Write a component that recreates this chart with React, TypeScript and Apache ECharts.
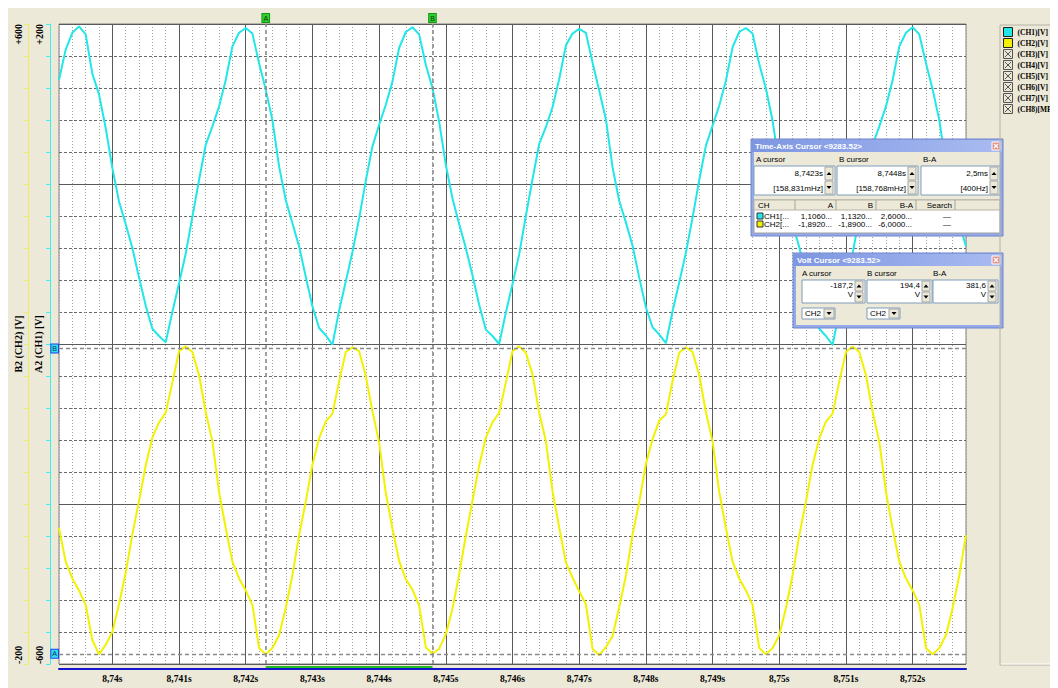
import React, { useEffect, useRef } from "react";
import * as echarts from "echarts";

// first sample time in 0.1 ms units (8,7392 s), samples every 0.1 ms
const SAMPLE_START_TENTH_MS = 87392;

const CH1_V = [
  130, 168, 189, 197, 187, 138, 112, 70, 20, -22, -50, -80, -117, -152, -181, -190,
  -198, -160, -124, -87, -41, 5, 49, 72, 97, 130, 172, 189, 195, 188, 151, 118, 80, 22, -20, -49, -78, -116, -153, -180, -189,
  -201, -158, -122, -85, -43, 4, 47, 74, 99, 128, 170, 190, 196, 187, 149, 120, 78, 24, -18, -50, -80, -114, -151, -182, -190,
  -200, -161, -125, -88, -40, 6, 50, 71, 96, 131, 173, 188, 194, 189, 152, 117, 81, 21, -21, -48, -77, -117, -154, -179, -188,
  -199, -159, -123, -86, -42, 5, 48, 73, 98, 129, 171, 190, 195, 188, 150, 119, 79, 23, -19, -50, -79, -115, -152, -181, -190,
  -201, -160, -124, -87, -41, 4, 49, 72, 97, 130, 172, 189, 196, 187, 151, 118, 80, 22, -20, -49, -78,
];

const CH2_V = [
  -30, -72, -93, -108, -126, -170, -188, -176, -160, -125, -86, -38, 4, 48, 83, 102, 114, 152, 191,
  197, 190, 161, 115, 78, 15, -30, -72, -93, -108, -126, -180, -188, -180, -164, -130, -89, -39, 3, 49, 82, 103, 113, 153, 190,
  196, 191, 160, 116, 77, 14, -31, -71, -94, -107, -127, -179, -187, -181, -163, -131, -88, -40, 4, 48, 83, 102, 114, 152, 191,
  197, 189, 162, 114, 79, 16, -29, -73, -92, -109, -125, -181, -189, -179, -165, -129, -90, -38, 2, 50, 81, 104, 112, 154, 189,
  196, 190, 161, 115, 78, 15, -30, -72, -93, -108, -126, -180, -188, -180, -164, -130, -89, -39, 3, 49, 82, 103, 113, 153, 190,
  197, 190, 161, 115, 78, 15, -31, -72, -93, -108, -126, -180, -188, -180, -164, -130, -89, -39,
];

const CH1_RANGE = [-600, 200];
const CH2_RANGE = [-200, 600];
const Y_MINOR_STEP = 40;
const Y_MAJOR_STEP = 200;

const CURSOR_A_TIME = "8.7423";
const CURSOR_B_TIME = "8.7448";
const VOLT_A = -187.2;
const VOLT_B = 194.4;

const LEGEND_NAMES = ["(CH1)[V]", "(CH2)[V]", "(CH3)[V]", "(CH4)[V]", "(CH5)[V]", "(CH6)[V]", "(CH7)[V]", "(CH8)[MPa"];

const TIME_HEAD = ["A cursor", "B cursor", "B-A"];
const TIME_VALUES = ["8,7423s", "8,7448s", "2,5ms"];
const TIME_FREQ = ["[158,831mHz]", "[158,768mHz]", "[400Hz]"];
const TABLE_HEAD = ["CH", "A", "B", "B-A", "Search"];
const TABLE_ROWS = [
  ["CH1[...", "1,1060...", "1,1320...", "2,6000...", "—"],
  ["CH2[...", "-1,8920...", "-1,8900...", "-6,0000...", "—"],
];
const VOLT_HEAD = ["A cursor", "B cursor", "B-A"];
const VOLT_VALUES = ["-187,2", "194,4", "381,6"];

const CYAN = "#22E6E8";
const YELLOW = "#F2F200";
const FONT_SERIF = '"Liberation Serif", "DejaVu Serif", serif';
const FONT_UI = '"Liberation Sans", "DejaVu Sans", sans-serif';

const TIMES = CH1_V.map((_, i) => ((SAMPLE_START_TENTH_MS + i) / 10000).toFixed(4));
const isMajor = (i: number) => (SAMPLE_START_TENTH_MS + i) % 10 === 0;
const isMinor = (i: number) => (SAMPLE_START_TENTH_MS + i) % 2 === 0 && !isMajor(i);
const fmtTime = (v: string) => String(parseFloat(v)).replace(".", ",") + "s";
const fmtVolt = (r: number[]) => (v: number) => (v === r[0] || v === r[1] ? (v > 0 ? "+" + v : String(v)) : "");

function buildDialogs(): any[] {
  const els: any[] = [];
  const R = (x: number, y: number, w: number, h: number, fill: any, stroke = "none", lw = 1) =>
    els.push({ type: "rect", silent: true, z: 100, shape: { x, y, width: w, height: h }, style: { fill, stroke, lineWidth: lw } });
  const L = (x1: number, y1: number, x2: number, y2: number, stroke: string, lw = 1) =>
    els.push({ type: "line", silent: true, z: 101, shape: { x1, y1, x2, y2 }, style: { stroke, lineWidth: lw } });
  const T = (x: number, y: number, text: string, align = "left", o: any = {}) =>
    els.push({
      type: "text", silent: true, z: 102, x, y,
      style: {
        text, fill: o.fill || "#000", fontSize: o.size || 8, fontFamily: o.family || FONT_UI,
        fontWeight: o.weight || "normal", align, textAlign: align, verticalAlign: "middle", textVerticalAlign: "middle",
      },
    });
  const TRI = (cx: number, cy: number, up: boolean) =>
    els.push({
      type: "polygon", silent: true, z: 102,
      shape: { points: up ? [[cx - 2.5, cy + 1.5], [cx + 2.5, cy + 1.5], [cx, cy - 1.5]] : [[cx - 2.5, cy - 1.5], [cx + 2.5, cy - 1.5], [cx, cy + 1.5]] },
      style: { fill: "#000" },
    });
  const win = (x: number, y: number, w: number, h: number, title: string) => {
    R(x, y, w, h, "#93A9EA", "#6E84CC");
    R(x + 1, y + 1, w - 2, 12, new echarts.graphic.LinearGradient(0, 0, 1, 0, [
      { offset: 0, color: "#7D96E2" }, { offset: 1, color: "#A9BBF0" },
    ]));
    T(x + 4, y + 7, title, "left", { fill: "#fff", weight: "bold" });
    R(x + w - 11, y + 3, 8, 8, "#E3908B", "#fff");
    L(x + w - 9, y + 5, x + w - 5, y + 9, "#fff", 1.2);
    L(x + w - 5, y + 5, x + w - 9, y + 9, "#fff", 1.2);
    R(x + 3, y + 13, w - 6, h - 16, "#ECE9D8");
  };
  const spin = (x: number, y: number, h: number) => {
    const half = Math.floor(h / 2);
    R(x, y + 1, 8, half - 1, "#ECE9D8", "#A5A5A5");
    R(x, y + half + 1, 8, h - half - 2, "#ECE9D8", "#A5A5A5");
    TRI(x + 4, y + half / 2 + 0.5, true);
    TRI(x + 4, y + half + (h - half) / 2, false);
  };

  // Time-Axis Cursor window
  win(743, 131, 252, 97, "Time-Axis Cursor <9283.52>");
  const tBoxes = [[746, 81], [829, 81], [913, 79]];
  tBoxes.forEach(([bx, bw], i) => {
    T(bx + 2, 151, TIME_HEAD[i]);
    R(bx, 158, bw, 29, "#fff", "#7F9DB9");
    spin(bx + bw - 10, 158, 29);
    T(bx + bw - 12, 165, TIME_VALUES[i], "right");
    T(bx + bw - 12, 180, TIME_FREQ[i], "right");
  });
  R(746, 192, 246, 33, "#fff", "#A0A0A0");
  R(746, 192, 246, 10, "#ECE9D8", "#B8B4A8");
  const seps = [787, 828, 868, 908, 947];
  seps.forEach((sx) => L(sx, 192, sx, 202, "#A8A49A"));
  T(750, 197, TABLE_HEAD[0]);
  T(825, 197, TABLE_HEAD[1], "right");
  T(865, 197, TABLE_HEAD[2], "right");
  T(905, 197, TABLE_HEAD[3], "right");
  T(944, 197, TABLE_HEAD[4], "right");
  TABLE_ROWS.forEach((row, r) => {
    const ry = 208 + r * 8;
    R(749, ry - 3, 6, 6, r === 0 ? CYAN : YELLOW, "#333");
    T(756, ry, row[0]);
    T(824, ry, row[1], "right");
    T(864, ry, row[2], "right");
    T(904, ry, row[3], "right");
    T(939, ry, row[4], "center");
  });

  // Volt Cursor window
  win(785, 245, 210, 75, "Volt Cursor <9283.52>");
  const vBoxes = [[794, 63], [859, 65], [925, 65]];
  vBoxes.forEach(([bx, bw], i) => {
    T(bx, 265, VOLT_HEAD[i]);
    R(bx, 272, bw, 23, "#fff", "#7F9DB9");
    spin(bx + bw - 10, 272, 23);
    T(bx + bw - 12, 277.5, VOLT_VALUES[i], "right");
    T(bx + bw - 12, 286, "V", "right");
  });
  [794, 859].forEach((dx) => {
    R(dx, 300, 33, 11, "#fff", "#7F9DB9");
    T(dx + 3, 305.5, "CH2");
    R(dx + 22, 301, 10, 9, "#ECE9D8", "#A5A5A5");
    TRI(dx + 27, 305.5, false);
  });

  // legend frame
  R(992, 17, 56, 640, "none", "#B5B2A4");
  L(993, 656, 1047, 656, "#fff");
  return els;
}

export default function App() {
  const ref = useRef<HTMLDivElement>(null);
  useEffect(() => {
    document.documentElement.style.overflow = "hidden";
    document.body.style.overflow = "hidden";
    const chart = echarts.init(ref.current!, undefined, { renderer: "svg" });
    const labelFont = { fontFamily: FONT_SERIF, fontWeight: "bold" as const, fontSize: 10, color: "#000" };
    const legendData = LEGEND_NAMES.map((name, i) =>
      i < 2
        ? { name, icon: "rect", itemStyle: { color: i === 0 ? CYAN : YELLOW, borderColor: "#222", borderWidth: 1 } }
        : {
            name,
            icon: "path://M0,0L10,0L10,10L0,10Z M1.5,1.5L8.5,8.5 M8.5,1.5L1.5,8.5",
            itemStyle: { color: "rgba(0,0,0,0)", borderColor: "#555", borderWidth: 1 },
          }
    );
    chart.setOption({
      animation: false,
      backgroundColor: "#ECE9D8",
      grid: { left: 51, top: 16, width: 907, height: 640, show: true, backgroundColor: "#fff", borderColor: "#808080", borderWidth: 1, outerBoundsMode: "none", containLabel: false },
      legend: {
        orient: "vertical", left: 995, top: 19, padding: 0, itemWidth: 9, itemHeight: 9, itemGap: 1, selectedMode: false,
        textStyle: { fontFamily: FONT_SERIF, fontWeight: "bold", fontSize: 7.5, color: "#000", lineHeight: 10 },
        data: legendData,
      },
      xAxis: [
        {
          type: "category", data: TIMES, boundaryGap: false, position: "bottom", offset: 5,
          axisLine: { show: true, onZero: false, lineStyle: { color: "#1515D0", width: 2 } },
          axisTick: { show: false },
          axisLabel: { interval: (i: number) => isMajor(i), formatter: fmtTime, margin: 5, ...labelFont, fontSize: 9.5 },
          splitLine: { show: true, interval: (i: number) => isMajor(i), lineStyle: { color: "#5A5A5A", width: 1 } },
        },
        {
          type: "category", data: TIMES, boundaryGap: false, position: "bottom",
          axisLine: { show: false, onZero: false }, axisTick: { show: false }, axisLabel: { show: false },
          splitLine: { show: true, interval: (i: number) => isMinor(i), lineStyle: { color: "#A0A0A0", width: 1, type: [1, 2] } },
        },
      ],
      yAxis: [
        {
          type: "value", min: CH1_RANGE[0], max: CH1_RANGE[1], interval: Y_MINOR_STEP, position: "left", offset: 9,
          name: "A2 (CH1) [V]", nameLocation: "middle", nameRotate: 90, nameGap: 7, nameMoveOverlap: false,
          nameTextStyle: { ...labelFont },
          axisLine: { show: true, onZero: false, lineStyle: { color: "#3CEEEE", width: 1 } },
          axisTick: { show: true, length: 4, lineStyle: { color: "#3CEEEE" } },
          axisLabel: { rotate: 90, margin: 6, formatter: fmtVolt(CH1_RANGE), alignMinLabel: "left", alignMaxLabel: "right", ...labelFont },
          splitLine: { show: true, lineStyle: { color: "#6A6A6A", width: 1, type: [3, 2] } },
        },
        {
          type: "value", min: CH2_RANGE[0], max: CH2_RANGE[1], interval: Y_MINOR_STEP, position: "left", offset: 31,
          name: "B2 (CH2) [V]", nameLocation: "middle", nameRotate: 90, nameGap: 5, nameMoveOverlap: false,
          nameTextStyle: { ...labelFont },
          axisLine: { show: true, onZero: false, lineStyle: { color: "#EEEE66", width: 1 } },
          axisTick: { show: true, length: 4, lineStyle: { color: "#EEEE66" } },
          axisLabel: { rotate: 90, margin: 5, formatter: fmtVolt(CH2_RANGE), alignMinLabel: "left", alignMaxLabel: "right", ...labelFont },
          splitLine: { show: false },
        },
        {
          type: "value", min: CH1_RANGE[0], max: CH1_RANGE[1], interval: Y_MAJOR_STEP, position: "left", z: 1,
          axisLine: { show: false }, axisTick: { show: false }, axisLabel: { show: false },
          splitLine: { show: true, lineStyle: { color: "#5A5A5A", width: 1 } },
        },
      ],
      series: [
        {
          type: "line", name: LEGEND_NAMES[0], xAxisIndex: 0, yAxisIndex: 0, data: CH1_V, showSymbol: false,
          lineStyle: { color: CYAN, width: 2 }, itemStyle: { color: CYAN }, z: 3,
          markLine: {
            silent: true, symbol: ["none", "none"], animation: false,
            lineStyle: { color: "#8A8A8A", type: [4, 3], width: 1.6 },
            label: {
              show: true, position: "end", distance: 2, fontSize: 7, fontFamily: FONT_UI, color: "#004400",
              backgroundColor: "#33CC33", borderColor: "#119911", borderWidth: 1, padding: [1, 1, 0, 1],
            },
            data: [
              { xAxis: CURSOR_A_TIME, label: { formatter: "A" } },
              { xAxis: CURSOR_B_TIME, label: { formatter: "B" } },
            ],
          },
        },
        {
          type: "line", name: LEGEND_NAMES[1], xAxisIndex: 0, yAxisIndex: 1, data: CH2_V, showSymbol: false,
          lineStyle: { color: YELLOW, width: 2 }, itemStyle: { color: YELLOW }, z: 3,
          markLine: {
            silent: true, symbol: ["none", "none"], animation: false,
            lineStyle: { color: "#8A8A8A", type: [4, 3], width: 1.4 },
            label: {
              show: true, position: "start", distance: 1, fontSize: 7, fontFamily: FONT_UI, color: "#003366",
              backgroundColor: "#33DDEE", borderColor: "#2244EE", borderWidth: 1, padding: [1, 1, 0, 1],
            },
            data: [
              { yAxis: VOLT_A, label: { formatter: "A" } },
              { yAxis: VOLT_B, label: { formatter: "B" } },
            ],
          },
        },
        ...LEGEND_NAMES.slice(2).map((name) => ({ type: "line", name, xAxisIndex: 0, yAxisIndex: 0, data: [] })),
      ],
    });
    const xA = chart.convertToPixel({ xAxisIndex: 0 }, CURSOR_A_TIME) as number;
    const xB = chart.convertToPixel({ xAxisIndex: 0 }, CURSOR_B_TIME) as number;
    const yBottom = chart.convertToPixel({ yAxisIndex: 0 }, CH1_RANGE[0]) as number;
    chart.setOption({
      graphic: {
        elements: [
          ...buildDialogs(),
          { type: "line", silent: true, z: 50, shape: { x1: xA, y1: yBottom + 3, x2: xB, y2: yBottom + 3 }, style: { stroke: "#22BB22", lineWidth: 2 } },
        ],
      },
    });
    return () => chart.dispose();
  }, []);
  return <div ref={ref} style={{ width: 1050, height: 680 }} />;
}
